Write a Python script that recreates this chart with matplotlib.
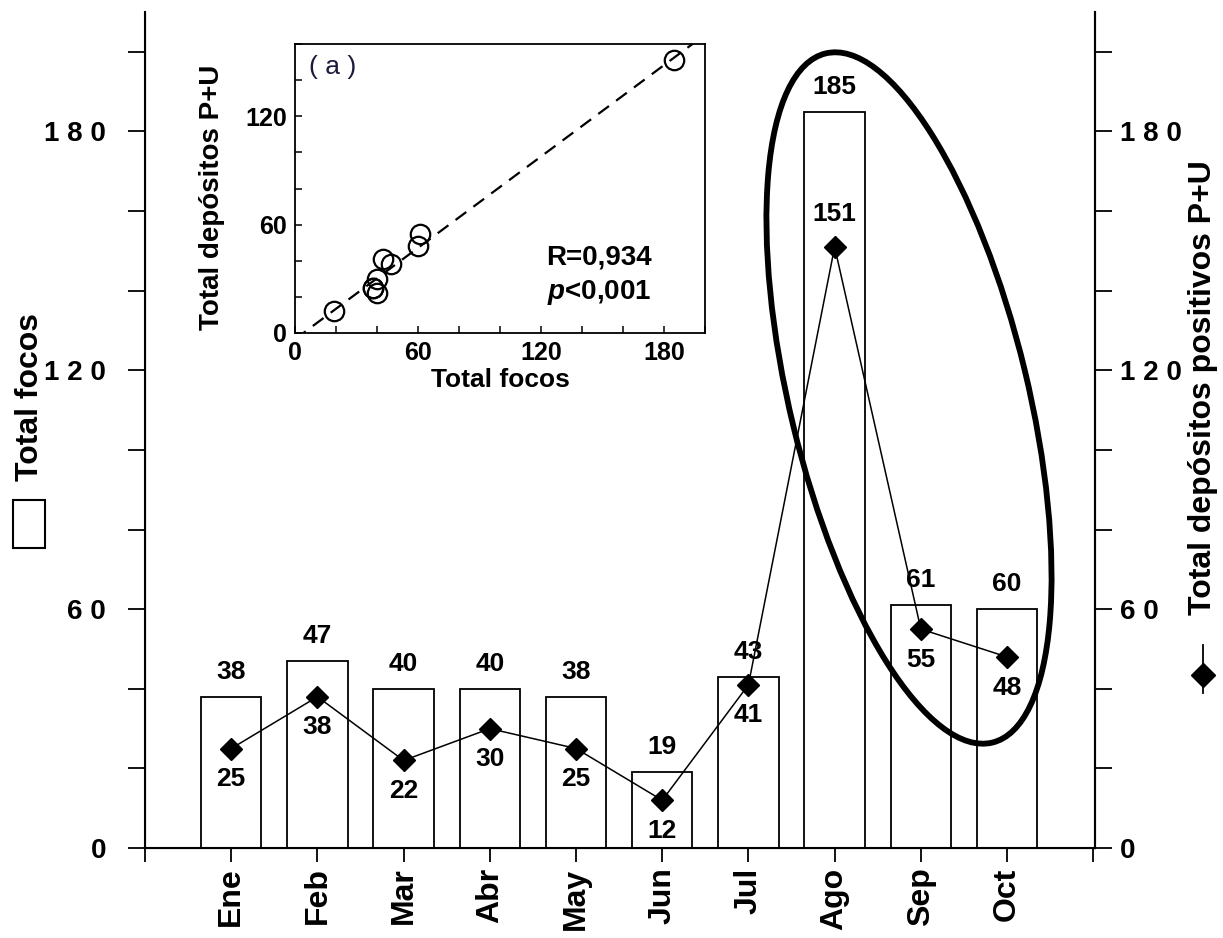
"""
Total focos vs Total depósitos positivos P+U por mes (barras + línea)
con gráfico de dispersión insertado (a)
"""

import numpy as np
import matplotlib
matplotlib.use("Agg")
import matplotlib.pyplot as plt
from matplotlib.patches import Ellipse, Rectangle
from matplotlib.lines import Line2D

plt.rcParams['font.family'] = ['Liberation Sans', 'DejaVu Sans']
plt.rcParams['mathtext.fontset'] = 'custom'
plt.rcParams['mathtext.it'] = 'Liberation Sans:italic:bold'
plt.rcParams['mathtext.rm'] = 'Liberation Sans:bold'

# datos
meses = ["Ene", "Feb", "Mar", "Abr", "May", "Jun", "Jul", "Ago", "Sep", "Oct"]
total_focos = [38, 47, 40, 40, 38, 19, 43, 185, 61, 60]
depositos_pu = [25, 38, 22, 30, 25, 12, 41, 151, 55, 48]

NARROW = ['Liberation Sans Narrow', 'Liberation Sans', 'DejaVu Sans']

#####################################################################
# figura principal
#####################################################################

fig = plt.figure(figsize=(12.23, 9.38), dpi=100)
ax = fig.add_axes([0.1186, 0.0959, 0.7767, 0.8913])

x = np.arange(len(meses))
ax.bar(x, total_focos, width=0.7, color='white', edgecolor='black', linewidth=1.3, zorder=2)
for xi, v in zip(x, total_focos):
    ax.annotate(str(v), (xi, v), xytext=(0, 18), textcoords='offset points',
                ha='center', va='center', fontsize=19, fontweight='bold', zorder=4)

ax.set_xlim(-0.985, 10.02)
ax.set_ylim(0, 210)
ax.set_xticks(np.arange(-1, 11))
ax.set_xticklabels([''] + meses + [''], rotation=90, fontsize=23, fontweight='bold')
yt = np.arange(0, 201, 20)
ylab = [" ".join(str(t)) if t % 60 == 0 else '' for t in yt]
ax.set_yticks(yt)
ax.set_yticklabels(ylab, fontsize=20, fontweight='bold', family=NARROW)
ax.tick_params(axis='y', direction='out', length=12, width=1.3, pad=16)
ax.tick_params(axis='x', direction='out', length=10, width=1.3, pad=4)
ax.spines['top'].set_visible(False)
for s in ['left', 'right', 'bottom']:
    ax.spines[s].set_linewidth(1.5)

# eje derecho: depósitos positivos
ax2 = ax.twinx()
ax2.set_ylim(0, 210)
ax2.plot(x, depositos_pu, color='black', linewidth=1.1, marker='D', markersize=11, zorder=3)
for xi, v in zip(x, depositos_pu):
    dy = 24 if v == max(depositos_pu) else -22
    ax2.annotate(str(v), (xi, v), xytext=(0, dy), textcoords='offset points',
                 ha='center', va='center', fontsize=19, fontweight='bold')
ax2.set_yticks(yt)
ax2.set_yticklabels(ylab, fontsize=20, fontweight='bold', family=NARROW)
ax2.tick_params(axis='y', direction='out', length=12, width=1.3, pad=6)
ax2.spines['top'].set_visible(False)
ax2.spines['right'].set_linewidth(1.5)

# etiquetas de ejes con símbolo de leyenda
fig.text(30 / 1223, 1 - 397 / 938, 'Total focos', rotation=90, ha='center', va='center',
         fontsize=23, fontweight='bold')
fig.add_artist(Rectangle((0.13, 3.90), 0.32, 0.48, transform=fig.dpi_scale_trans,
                         facecolor='white', edgecolor='black', linewidth=1.5))
fig.text(1203 / 1223, 1 - 388 / 938, 'Total depósitos positivos P+U', rotation=90,
         ha='center', va='center', fontsize=23, fontweight='bold')
fig.add_artist(Line2D([12.03, 12.03], [2.45, 2.93], transform=fig.dpi_scale_trans,
                      color='black', linewidth=1.3))
fig.add_artist(Line2D([12.03], [2.63], transform=fig.dpi_scale_trans, color='black',
                      marker='D', markersize=12))

# elipse resaltando Ago-Oct
fig.add_artist(Ellipse((9.09, 5.40), 2.38, 7.09, angle=13.6, transform=fig.dpi_scale_trans,
                       fill=False, edgecolor='black', linewidth=4.2, zorder=5))

#####################################################################
# gráfico insertado (a)
#####################################################################

axi = fig.add_axes([0.2412, 0.645, 0.3353, 0.308])
axi.plot(total_focos, depositos_pu, linestyle='none', marker='o', markersize=14,
         markerfacecolor='none', markeredgecolor='black', markeredgewidth=1.6)
b, a = np.polyfit(total_focos, depositos_pu, 1)
xx = np.array([0, 200])
axi.plot(xx, a + b * xx, color='black', linestyle='--', dashes=(6, 4), linewidth=1.6)
axi.set_xlim(0, 200)
axi.set_ylim(0, 160)
xt = np.arange(0, 201, 20)
axi.set_xticks(xt)
axi.set_xticklabels([str(t) if t % 60 == 0 else '' for t in xt], fontsize=18, fontweight='bold')
yti = np.arange(0, 161, 20)
axi.set_yticks(yti)
axi.set_yticklabels([str(t) if t % 60 == 0 else '' for t in yti], fontsize=18, fontweight='bold')
axi.tick_params(direction='in', length=5, width=1.1, pad=6)
axi.set_xlabel('Total focos', fontsize=19, fontweight='bold', labelpad=2)
axi.set_ylabel('Total depósitos P+U', fontsize=20, fontweight='bold')
axi.yaxis.set_label_coords(-0.17, 0.47)
for s in axi.spines.values():
    s.set_linewidth(1.3)

axi.text(0.035, 0.92, '( a )', transform=axi.transAxes, ha='left', va='center',
         fontsize=19, family=NARROW, color='#1b1b3a')
axi.text(0.87, 0.26, 'R=0,934', transform=axi.transAxes, ha='right', va='center',
         fontsize=20, fontweight='bold')
axi.text(0.87, 0.14, r'$\mathit{p}$<0,001', transform=axi.transAxes, ha='right', va='center',
         fontsize=20, fontweight='bold')

plt.savefig('out.png', dpi=100)
